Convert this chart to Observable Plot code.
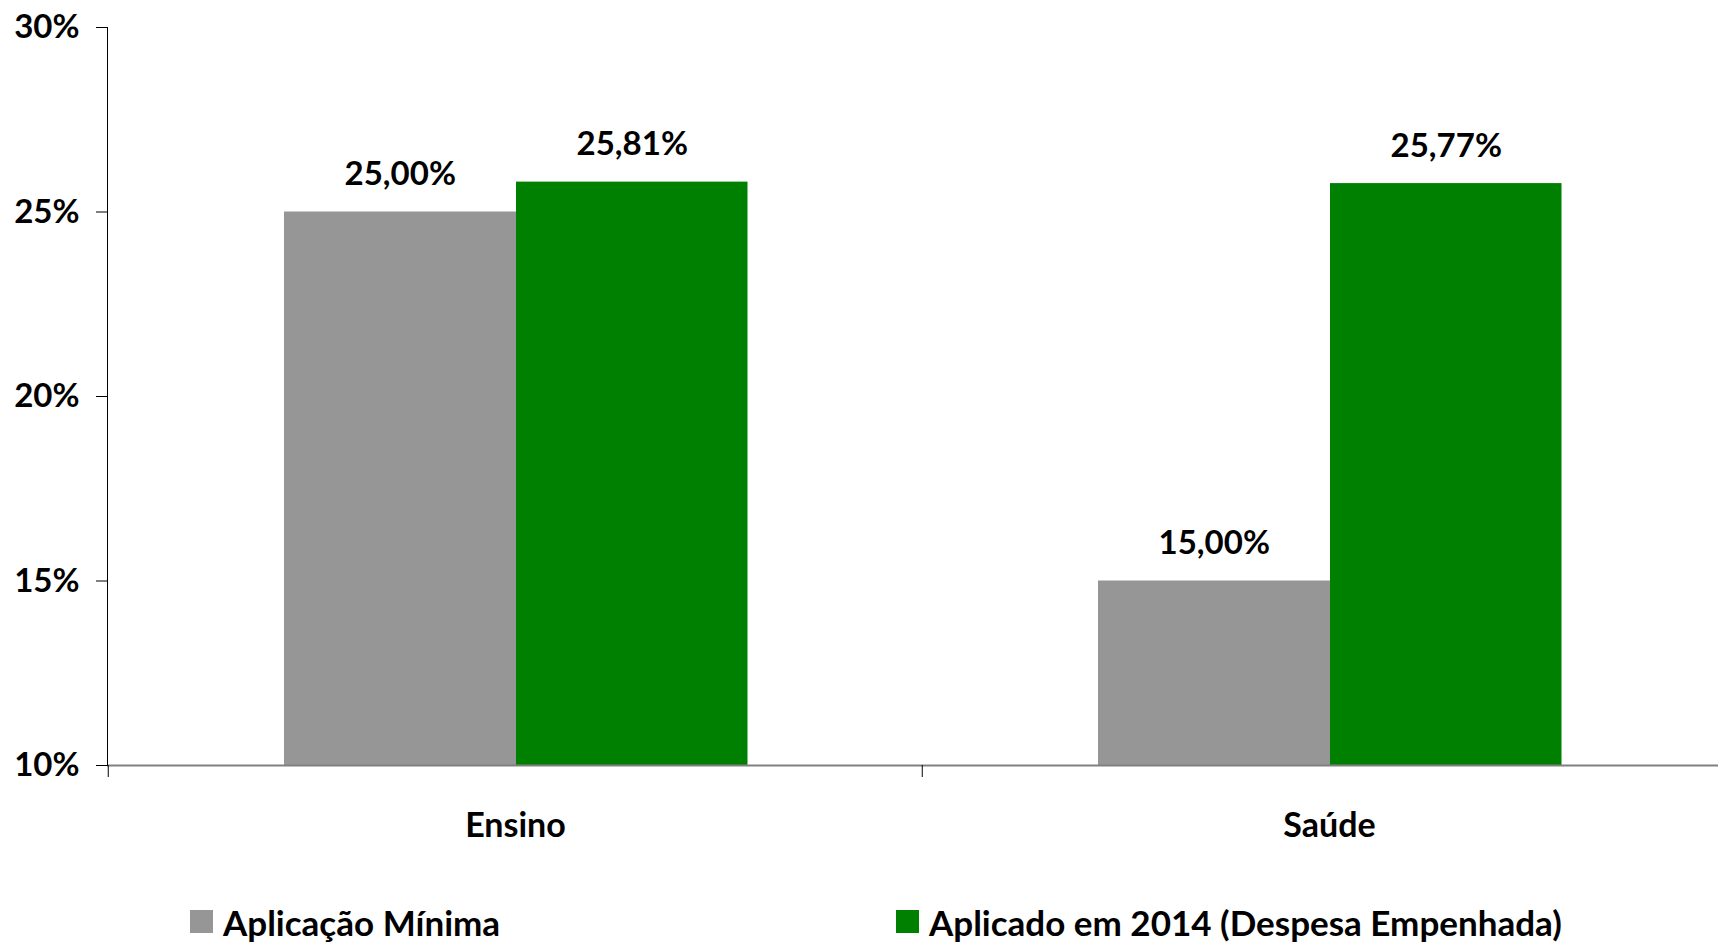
<!DOCTYPE html>
<html>
<head>
<meta charset="utf-8">
<script src="https://cdn.jsdelivr.net/npm/d3@7"></script>
<script src="https://cdn.jsdelivr.net/npm/@observablehq/plot@0.6"></script>
<style>
  html, body { margin: 0; padding: 0; background: #fff; overflow: hidden; }
  #chart svg { display: block; }
  #legend { position: relative; width: 1718px; height: 63px; font-family: Lato, "Open Sans", sans-serif; font-weight: 700; font-size: 35px; color: #000; }
  .item { position: absolute; top: 10px; height: 63px; display: flex; align-items: center; white-space: nowrap; }
  .sw { width: 23px; height: 23px; margin-right: 10px; }
</style>
</head>
<body>
<div id="chart"></div>
<div id="legend"></div>
<script>
const categories = ["Ensino", "Saúde"];
const aplicacaoMinima = [0.25, 0.15];
const aplicado2014 = [0.2581, 0.2577];
const yTicks = [0.10, 0.15, 0.20, 0.25, 0.30];
const seriesNames = ["Aplicação Mínima", "Aplicado em 2014 (Despesa Empenhada)"];
const seriesColors = ["#969696", "#008000"];

const yMin = yTicks[0], yMax = yTicks[yTicks.length - 1];
const W = 1718, H = 880, mL = 107, mR = -18, mT = 27, mB = 115;
const bw = (W - mL - mR) / categories.length;

const minRows = categories.map((c, i) => ({cat: c, v: aplicacaoMinima[i]}));
const aplRows = categories.map((c, i) => ({cat: c, v: aplicado2014[i]}));
const fmt = v => (v * 100).toFixed(2).replace(".", ",") + "%";

const plot = Plot.plot({
  width: W, height: H,
  marginLeft: mL, marginRight: mR, marginTop: mT, marginBottom: mB,
  style: {fontFamily: "Lato, 'Open Sans', sans-serif", fontSize: "33px", fontWeight: 700, color: "#000", background: "#fff"},
  x: {domain: categories, padding: 0, axis: null},
  y: {domain: [yMin, yMax], axis: null},
  marks: [
    Plot.barY(minRows, {x: "cat", y1: () => yMin, y2: "v", fill: seriesColors[0], insetLeft: 176, insetRight: bw - 176 - 232.5}),
    Plot.barY(aplRows, {x: "cat", y1: () => yMin, y2: "v", fill: seriesColors[1], insetLeft: 176 + 232, insetRight: bw - 176 - 464}),
    Plot.text(minRows, {x: "cat", y: "v", text: d => fmt(d.v), dx: 176 + 116 - bw / 2, dy: -27, lineAnchor: "bottom", fill: "#000"}),
    Plot.text(aplRows, {x: "cat", y: "v", text: d => fmt(d.v), dx: 176 + 232 + 116 - bw / 2, dy: -27, lineAnchor: "bottom", fill: "#000"}),
    Plot.ruleY([yMin], {stroke: "#808080", strokeWidth: 2}),
    Plot.frame({anchor: "left", stroke: "#000", strokeWidth: 1}),
    Plot.axisY({ticks: yTicks, tickFormat: d => Math.round(d * 100) + "%", tickSize: 11, tickPadding: 17, label: null, stroke: "#000"}),
    Plot.axisX({tickSize: 12, tickFormat: () => "", dx: -bw / 2, label: null, stroke: "#000"}),
    Plot.axisX({tickSize: 0, tickPadding: 47, label: null, fontSize: 34})
  ]
});
document.getElementById("chart").appendChild(plot);

const legend = document.getElementById("legend");
const lefts = [190, 896];
seriesNames.forEach((name, i) => {
  const item = document.createElement("div");
  item.className = "item";
  item.style.left = lefts[i] + "px";
  const sw = document.createElement("span");
  sw.className = "sw";
  sw.style.background = seriesColors[i];
  const t = document.createElement("span");
  t.textContent = name;
  item.appendChild(sw);
  item.appendChild(t);
  legend.appendChild(item);
});
</script>
</body>
</html>
